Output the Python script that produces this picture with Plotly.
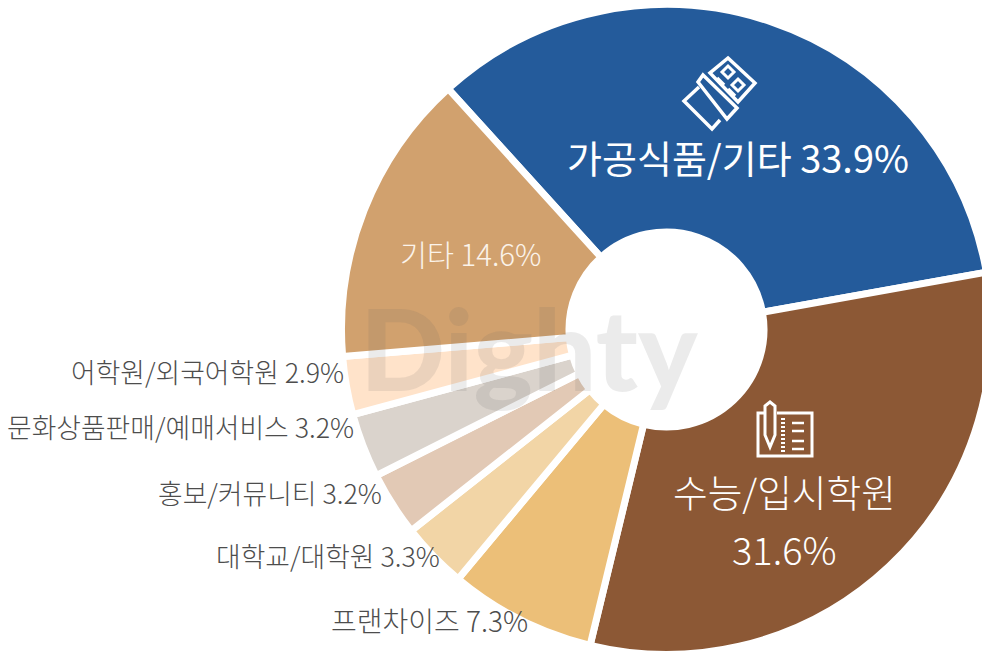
import plotly.graph_objects as go

categories = ["가공식품/기타", "수능/입시학원", "프랜차이즈", "대학교/대학원", "홍보/커뮤니티",
              "문화상품판매/예매서비스", "어학원/외국어학원", "기타"]
values = [33.9, 31.6, 7.3, 3.3, 3.2, 3.2, 2.9, 14.6]
colors = ["#245B9B", "#8C5835", "#ECBF78", "#F2D5A6", "#E2C9B5", "#DAD3CC", "#FFE3CA", "#D1A16E"]

W, H = 1000, 660
CX, CY, R = 666.5, 329.5, 325
FONT = "Noto Sans CJK KR"


def px(x):
    return x / W


def py(y):
    return 1 - y / H


def path(points, close=True):
    s = " ".join(("M" if i == 0 else "L") + f"{px(x):.5f},{py(y):.5f}" for i, (x, y) in enumerate(points))
    return s + (" Z" if close else "")


fig = go.Figure(go.Pie(
    labels=categories, values=values, sort=False, direction="clockwise", rotation=-42.2,
    hole=0.30, textinfo="none", hoverinfo="label+percent", showlegend=False,
    marker=dict(colors=colors, line=dict(color="white", width=7)),
    domain=dict(x=[px(CX - R), px(CX + R)], y=[py(CY + R), py(CY - R)]),
))

labels = [
    (f"{categories[0]} {values[0]}%", 738, 156.5, 38, "white", "center", 400),
    (f"{categories[1]}", 784, 490, 37.7, "white", "center", 300),
    (f"{values[1]}%", 784.5, 548, 38, "white", "center", 300),
    (f"{categories[7]} {values[7]}%", 470.5, 253, 29.4, "#FBF3EA", "center", 300),
    (f"{categories[6]} {values[6]}%", 345.5, 371, 26.8, "#4D4D4D", "right", 300),
    (f"{categories[5]} {values[5]}%", 355.5, 426, 26.8, "#4D4D4D", "right", 300),
    (f"{categories[4]} {values[4]}%", 383.5, 492, 26.8, "#4D4D4D", "right", 300),
    (f"{categories[3]} {values[3]}%", 441.5, 555, 26.8, "#4D4D4D", "right", 300),
    (f"{categories[2]} {values[2]}%", 530, 620, 28, "#4D4D4D", "right", 300),
]
annotations = [dict(text="Dighty", x=px(529), y=py(347), xref="paper", yref="paper", showarrow=False,
                    font=dict(family="Lato", size=112, color="rgba(100,100,100,0.13)", weight=900))]
for t, x, y, s, c, a, w in labels:
    annotations.append(dict(text=t, x=px(x), y=py(y), xref="paper", yref="paper", showarrow=False,
                            xanchor=a, yanchor="middle", font=dict(family=FONT, size=s, color=c, weight=w)))

white = dict(color="white", width=3.5)
thin = dict(color="white", width=3)
shapes = [
    dict(type="path", xref="paper", yref="paper", line=white, path=path([(728, 58), (755, 83), (738, 102), (710, 73)])),
    dict(type="path", xref="paper", yref="paper", line=white, path=path([(703, 75), (737, 108), (727, 119), (698, 82)])),
    dict(type="path", xref="paper", yref="paper", line=white, path=path([(699, 87), (684, 101), (712, 129), (720, 120)], close=False)),
    dict(type="path", xref="paper", yref="paper", line=thin, path=path([(728, 66), (734, 72), (728, 78), (722, 72)])),
    dict(type="path", xref="paper", yref="paper", line=thin, path=path([(738, 79), (744, 85), (738, 91), (732, 85)])),
    dict(type="path", xref="paper", yref="paper", line=white, path=path([(717, 78), (724, 85)], close=False)),
    dict(type="path", xref="paper", yref="paper", line=white, path=path([(728, 89), (735, 96)], close=False)),
    dict(type="path", xref="paper", yref="paper", line=thin,
         path=path([(764, 413), (758, 413), (758, 456), (812, 456), (812, 413), (777, 413)], close=False)),
    dict(type="path", xref="paper", yref="paper", line=thin,
         path=path([(765, 406), (770, 402), (775, 406), (775, 435), (770, 447), (765, 435)])),
    dict(type="path", xref="paper", yref="paper", line=dict(color="white", width=4, dash="2px,2px"), path=path([(783, 418), (783, 452)], close=False)),
]
for y0, xa, xb in [(423, 792, 804), (431, 792, 804), (441, 792, 804), (449, 792, 804)]:
    shapes.append(dict(type="path", xref="paper", yref="paper", line=dict(color="white", width=2.5), path=path([(xa, y0), (xb, y0)], close=False)))

fig.update_layout(width=W, height=H, margin=dict(l=0, r=0, t=0, b=0), paper_bgcolor="white",
                  annotations=annotations, shapes=shapes, font=dict(family=FONT))
fig.write_html("out.html", config=dict(displayModeBar=False),
               post_script="document.documentElement.style.overflow='hidden';document.body.style.margin='0';document.body.style.overflow='hidden';")
